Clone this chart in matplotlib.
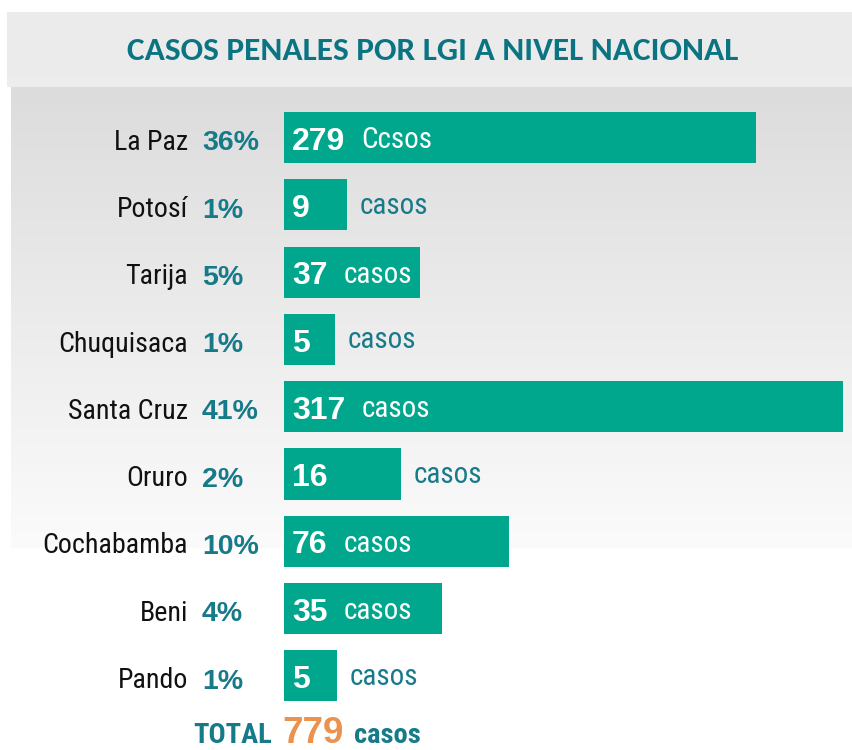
import matplotlib
matplotlib.use("Agg")
import matplotlib.pyplot as plt
import numpy as np
from matplotlib.patches import Rectangle

# ---------------- data ----------------
title = "CASOS PENALES POR LGI A NIVEL NACIONAL"
departments = ["La Paz", "Potosí", "Tarija", "Chuquisaca", "Santa Cruz",
               "Oruro", "Cochabamba", "Beni", "Pando"]
percentages = ["36%", "1%", "5%", "1%", "41%", "2%", "10%", "4%", "1%"]
casos = [279, 9, 37, 5, 317, 16, 76, 35, 5]
unit_labels = ["Ccsos", "casos", "casos", "casos", "casos",
               "casos", "casos", "casos", "casos"]
# drawn bar lengths as they appear in the infographic (display units)
bar_lengths = [472, 63, 136, 51, 559, 117, 225, 158, 53]
total_label = "TOTAL"
total_value = 779
total_unit = "casos"

NARROW = ["Roboto Condensed", "DejaVu Sans"]
SANS = ["Liberation Sans", "DejaVu Sans"]
TITLE_F = ["Carlito", "DejaVu Sans"]

BAR = "#00a78d"
TEAL = "#177a89"
TITLE_C = "#0b7482"
ORANGE = "#eb924e"

W, H = 852, 750
fig = plt.figure(figsize=(W / 100, H / 100), dpi=100)
fig.patch.set_facecolor("white")

# background decoration axes (pixel coordinates)
bg = fig.add_axes([0, 0, 1, 1], zorder=0)
bg.add_patch(Rectangle((7, 12), W - 7, 75, facecolor="#ebebeb", edgecolor="none"))
bg.add_patch(Rectangle((7, 77), W - 7, 10, facecolor="#ededed", edgecolor="none"))
grad = np.linspace(220, 251, 256) / 255.0
img = np.repeat(grad[:, None, None], 3, axis=2)
bg.imshow(img, extent=(11, W, 548, 87), aspect="auto", interpolation="bilinear")
bg.set_xlim(0, W)
bg.set_ylim(H, 0)
bg.axis("off")
bg.text(433, 59.5, title, ha="center", va="baseline", fontsize=24,
        fontweight="bold", color=TITLE_C, family=TITLE_F)

# main chart axes: 1 x unit = 1 px
row_h = 67.3
top = 137.5 - row_h / 2
left_px = 284
ax = fig.add_axes([left_px / W, 1 - (top + 9 * row_h) / H,
                   (W - left_px) / W, 9 * row_h / H], zorder=1)
ax.set_xlim(0, W - left_px)
ax.set_ylim(8.5, -0.5)
ax.axis("off")
ax.patch.set_alpha(0)

rows = np.arange(len(departments))
ax.barh(rows, bar_lengths, height=0.76, color=BAR, left=0)

fig.canvas.draw()
renderer = fig.canvas.get_renderer()
inv = ax.transData.inverted()


def end_x(t):
    bb = t.get_window_extent(renderer)
    return inv.transform((bb.x1, bb.y0))[0]


for i in rows:
    ax.text(-96, i + 0.18, departments[i], ha="right", va="baseline",
            fontsize=20.2, color="#111111", family=NARROW, clip_on=False)
    ax.text(-82, i + 0.19, percentages[i], ha="left", va="baseline",
            fontsize=20.5, fontweight="bold", color=TEAL, family=SANS, clip_on=False)
    num = ax.text(8, i + 0.18, str(casos[i]), ha="left", va="baseline",
                  fontsize=23, fontweight="bold", color="white", family=SANS)
    inside = bar_lengths[i] >= 130
    if inside:
        x = end_x(num) + 16
        ax.text(x, i + 0.16, unit_labels[i], ha="left", va="baseline",
                fontsize=21, color="white", family=NARROW)
    else:
        ax.text(bar_lengths[i] + 13, i + 0.13, unit_labels[i], ha="left",
                va="baseline", fontsize=21, color=TEAL, family=NARROW,
                clip_on=False)

t1 = ax.text(-91, 9.0, total_label, ha="left", va="baseline", fontsize=20.5,
             fontweight="bold", color=TEAL, family=NARROW, clip_on=False)
fig.canvas.draw()
t2 = ax.text(end_x(t1) + 11, 9.0, str(total_value), ha="left", va="baseline",
             fontsize=26.5, fontweight="bold", color=ORANGE, family=SANS, clip_on=False)
fig.canvas.draw()
ax.text(end_x(t2) + 10, 9.0, total_unit, ha="left", va="baseline", fontsize=20.5,
        fontweight="bold", color=TEAL, family=NARROW, clip_on=False)

fig.savefig("out.png", dpi=100, facecolor="white")
